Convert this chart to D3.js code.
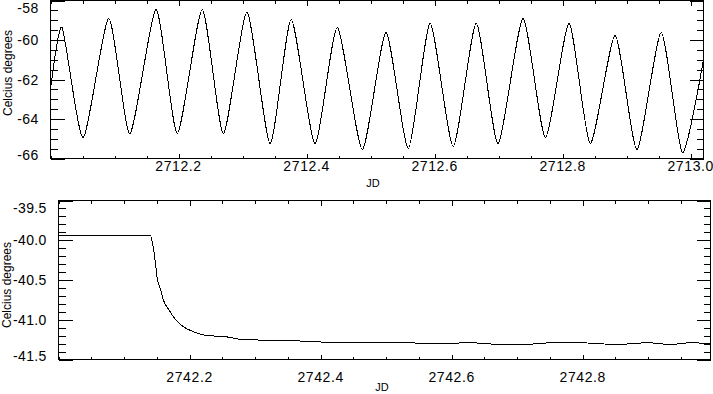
<!DOCTYPE html>
<html>
<head>
<meta charset="utf-8">
<script src="https://cdn.jsdelivr.net/npm/d3@7"></script>
<style>
  html, body { margin: 0; padding: 0; background: #fff; }
  svg { display: block; }
  text { font-family: "Liberation Sans", Arial, sans-serif; fill: #000; }
</style>
</head>
<body>
<svg id="chart" width="713" height="394"></svg>
<script>
// ---------- DATA ----------
// Top panel: JD vs temperature (extrema)
const topJD = [2712.001, 2712.018, 2712.051, 2712.091, 2712.124, 2712.165, 2712.198, 2712.237, 2712.270,
  2712.307, 2712.343, 2712.376, 2712.413, 2712.448, 2712.487, 2712.524, 2712.559, 2712.593, 2712.629,
  2712.665, 2712.699, 2712.738, 2712.773, 2712.810, 2712.843, 2712.882, 2712.916, 2712.954, 2712.987, 2713.020];
const topTemp = [-62.30, -59.37, -64.94, -58.91, -64.73, -58.46, -64.73, -58.46, -64.73,
  -58.60, -65.24, -58.96, -65.24, -59.37, -65.54, -59.62, -65.49, -59.16, -65.39,
  -59.16, -65.24, -58.91, -64.94, -59.16, -65.24, -59.77, -65.54, -59.62, -65.70, -60.99];

// Bottom panel
const botJD = [2742.0015, 2742.140, 2742.144, 2742.148, 2742.151, 2742.156, 2742.160, 2742.168, 2742.179,
  2742.191, 2742.206, 2742.227, 2742.252, 2742.282, 2742.339, 2742.400, 2742.415, 2742.502, 2742.573,
  2742.629, 2742.675, 2742.710, 2742.771, 2742.853, 2742.899, 2742.934, 2742.965, 2742.995];
const botTemp = [-39.94, -39.94, -40.06, -40.29, -40.50, -40.62, -40.75, -40.87, -41.00,
  -41.09, -41.15, -41.20, -41.21, -41.25, -41.26, -41.28, -41.29, -41.28, -41.30,
  -41.29, -41.31, -41.31, -41.28, -41.31, -41.29, -41.31, -41.29, -41.30];

// Tick values and labels
const topXTicks = [2712.2, 2712.4, 2712.6, 2712.8, 2713.0];
const topXLabels = ["2712.2", "2712.4", "2712.6", "2712.8", "2713.0"];
const topYTicks = [-58, -60, -62, -64, -66];
const topYLabels = ["-58", "-60", "-62", "-64", "-66"];
const botXTicks = [2742.2, 2742.4, 2742.6, 2742.8];
const botXLabels = ["2742.2", "2742.4", "2742.6", "2742.8"];
const botYTicks = [-39.5, -40.0, -40.5, -41.0, -41.5];
const botYLabels = ["-39.5", "-40.0", "-40.5", "-41.0", "-41.5"];

const xTitle = "JD";
const yTitle = "Celcius degrees";

// ---------- DRAW ----------
const svg = d3.select("#chart");

function panel(cfg) {
  const g = svg.append("g");
  const x = d3.scaleLinear().domain(cfg.xDomain).range([cfg.left, cfg.right]);
  const y = d3.scaleLinear().domain(cfg.yDomain).range([cfg.bottom, cfg.top]);

  // frame
  g.append("rect")
    .attr("x", cfg.left).attr("y", cfg.top)
    .attr("width", cfg.right - cfg.left).attr("height", cfg.bottom - cfg.top)
    .attr("fill", "none").attr("stroke", "#000").attr("stroke-width", 1)
    .attr("shape-rendering", "crispEdges");

  const minorX = d3.range(cfg.xDomain[0], cfg.xDomain[1] + 1e-9, cfg.xMinor)
    .filter(v => !cfg.xTicks.some(t => Math.abs(t - v) < 1e-6));
  const minorY = d3.range(Math.min(...cfg.yDomain), Math.max(...cfg.yDomain) + 1e-9, cfg.yMinor)
    .filter(v => !cfg.yTicks.some(t => Math.abs(t - v) < 1e-6));

  const tg = g.append("g").attr("stroke", "#000").attr("shape-rendering", "crispEdges");
  // x ticks bottom & top (inward)
  const xt = [...cfg.xTicks.map(v => ({v, len: cfg.xMajLen})), ...minorX.map(v => ({v, len: cfg.xMinLen}))];
  xt.forEach(d => {
    const px = Math.round(x(d.v)) + 0.5;
    tg.append("line").attr("x1", px).attr("x2", px).attr("y1", cfg.bottom).attr("y2", cfg.bottom - d.len);
    tg.append("line").attr("x1", px).attr("x2", px).attr("y1", cfg.top).attr("y2", cfg.top + d.len);
  });
  const yt = [...cfg.yTicks.map(v => ({v, len: cfg.yMajLen})), ...minorY.map(v => ({v, len: cfg.yMinLen}))];
  yt.forEach(d => {
    const py = Math.round(y(d.v)) + 0.5;
    tg.append("line").attr("x1", cfg.left).attr("x2", cfg.left + d.len).attr("y1", py).attr("y2", py);
    tg.append("line").attr("x1", cfg.right).attr("x2", cfg.right - d.len).attr("y1", py).attr("y2", py);
  });

  // tick labels
  g.selectAll(".xl").data(cfg.xTicks).enter().append("text")
    .attr("x", d => x(d)).attr("y", cfg.xLabelBase)
    .attr("text-anchor", "middle").attr("font-size", 14).attr("letter-spacing", 0.6)
    .text((d, i) => cfg.xLabels[i]);
  g.selectAll(".yl").data(cfg.yTicks).enter().append("text")
    .attr("x", cfg.left - 12)
    .attr("y", d => Math.min(Math.max(y(d), cfg.top + 7), cfg.bottom - 4) + 5)
    .attr("text-anchor", "end").attr("font-size", 14).attr("letter-spacing", 0.3)
    .text((d, i) => cfg.yLabels[i]);

  // axis titles
  g.append("text").attr("x", cfg.xTitleX).attr("y", cfg.xTitleY)
    .attr("text-anchor", "middle").attr("font-size", 11).text(xTitle);
  g.append("text")
    .attr("transform", `translate(${cfg.yTitleX},${cfg.yTitleY}) rotate(-90)`)
    .attr("text-anchor", "middle").attr("font-size", 12).text(yTitle);

  // data line
  const pts = cfg.xs.map((v, i) => [v, cfg.ys[i]]);
  const line = d3.line().x(d => x(d[0])).y(d => y(d[1])).curve(cfg.curve);
  g.append("path").attr("d", line(pts))
    .attr("fill", "none").attr("stroke", "#000").attr("stroke-width", 1)
    .attr("shape-rendering", "crispEdges");
}

panel({
  xDomain: [2712.0, 2713.02], yDomain: [-66, -58],
  left: 50.5, right: 703.5, top: 0.5, bottom: 158.5,
  xTicks: topXTicks, xLabels: topXLabels, yTicks: topYTicks, yLabels: topYLabels,
  xMinor: 0.05, yMinor: 0.5,
  xMajLen: 5, xMinLen: 3, yMajLen: 14, yMinLen: 7,
  xLabelBase: 171, xTitleX: 373, xTitleY: 187,
  yTitleX: 12, yTitleY: 73,
  xs: topJD, ys: topTemp,
  curve: d3.curveCardinal.tension(0.35)
});

panel({
  xDomain: [2742.0, 2742.995], yDomain: [-41.5, -39.5],
  left: 58.5, right: 710.5, top: 200.5, bottom: 359.5,
  xTicks: botXTicks, xLabels: botXLabels, yTicks: botYTicks, yLabels: botYLabels,
  xMinor: 0.05, yMinor: 0.1,
  xMajLen: 5, xMinLen: 3, yMajLen: 14, yMinLen: 7,
  xLabelBase: 382, xTitleX: 382, xTitleY: 391,
  yTitleX: 11, yTitleY: 285,
  xs: botJD, ys: botTemp,
  curve: d3.curveMonotoneX
});
</script>
</body>
</html>
